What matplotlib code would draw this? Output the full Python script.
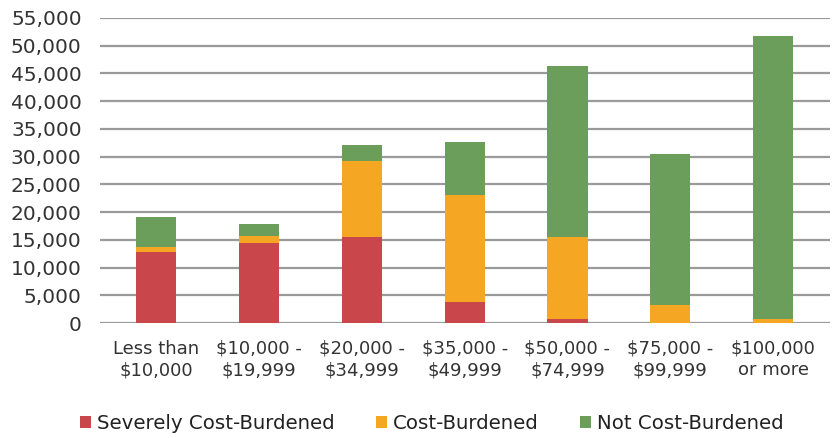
import matplotlib
matplotlib.use("Agg")
import matplotlib.pyplot as plt
from matplotlib.ticker import FuncFormatter, MultipleLocator

categories = ["Less than\n$10,000", "$10,000 -\n$19,999", "$20,000 -\n$34,999",
              "$35,000 -\n$49,999", "$50,000 -\n$74,999", "$75,000 -\n$99,999",
              "$100,000\nor more"]
severe = [12900, 14400, 15600, 3800, 700, 0, 0]
burdened = [900, 1300, 13600, 19300, 14850, 3200, 700]
not_burdened = [5300, 2200, 2900, 9600, 30750, 27300, 51000]
series_names = ["Severely Cost-Burdened", "Cost-Burdened", "Not Cost-Burdened"]
colors = ["#C9474A", "#F5A623", "#6B9E5A"]

plt.rcParams['font.family'] = ['DejaVu Sans']

fig = plt.figure(figsize=(8.38, 4.38), dpi=100)
ax = fig.add_axes([0.119, 0.262, 0.871, 0.697])

x = list(range(len(categories)))
w = 0.39
b2 = [a + b for a, b in zip(severe, burdened)]
ax.bar(x, severe, w, color=colors[0], label=series_names[0], zorder=3)
ax.bar(x, burdened, w, bottom=severe, color=colors[1], label=series_names[1], zorder=3)
ax.bar(x, not_burdened, w, bottom=b2, color=colors[2], label=series_names[2], zorder=3)

ax.set_ylim(0, 55000)
ax.set_xlim(-0.55, len(categories) - 0.45)
ax.yaxis.set_major_locator(MultipleLocator(5000))
ax.yaxis.set_major_formatter(FuncFormatter(lambda v, p: f"{int(v):,}"))
ax.grid(axis='y', color='#9a9a9a', linewidth=1.6, zorder=0)
for s in ax.spines.values():
    s.set_visible(False)
ax.tick_params(axis='both', length=0, colors='#333333')
ax.tick_params(axis='y', pad=13, labelsize=14.5)
ax.tick_params(axis='x', pad=12, labelsize=13)
ax.set_xticks(x)
ax.set_xticklabels(categories, linespacing=1.25)

fig.legend(loc='center', bbox_to_anchor=(0.5155, 0.034), ncol=3, frameon=False,
           fontsize=14.2, handlelength=0.55, handleheight=0.55, handletextpad=0.3,
           columnspacing=2.1, labelcolor='#222222')

fig.savefig("out.png", dpi=100)
